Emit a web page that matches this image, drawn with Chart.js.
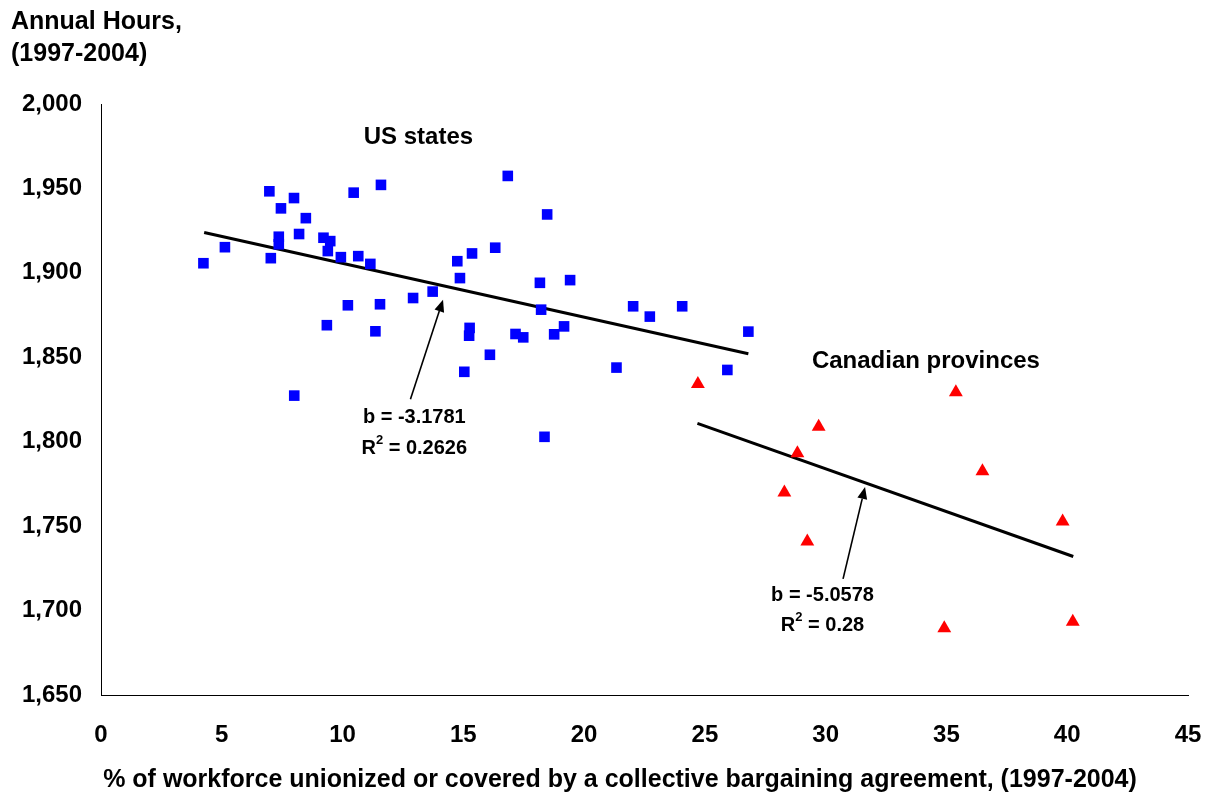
<!DOCTYPE html>
<html>
<head>
<meta charset="utf-8">
<script src="https://cdn.jsdelivr.net/npm/chart.js@4/dist/chart.umd.min.js"></script>
<style>
  html, body { margin: 0; padding: 0; background: #fff; }
  #wrap { width: 1212px; height: 796px; }
</style>
</head>
<body>
<div id="wrap"><canvas id="chart"></canvas></div>
<script>
// values
const usX = [4.24, 5.13, 6.97, 7.03, 7.36, 7.36, 7.45, 7.99, 8.0, 8.2, 8.48, 9.21, 9.35, 9.39, 9.49,
  9.93, 10.22, 10.46, 10.65, 11.15, 11.36, 11.55, 11.59, 12.92, 13.73, 14.75, 14.86, 15.04, 15.24,
  15.26, 15.36, 16.1, 16.32, 16.84, 17.16, 17.48, 18.17, 18.22, 18.36, 18.47, 18.76, 19.17, 19.42,
  21.34, 22.03, 22.72, 24.06, 25.93, 26.8];
const usY = [1905.7, 1915.2, 1948.3, 1908.7, 1921.4, 1916.9, 1938.2, 1944.3, 1827.3, 1923.0, 1932.4,
  1920.8, 1869.0, 1912.9, 1918.8, 1909.3, 1880.8, 1947.5, 1909.9, 1905.3, 1865.4, 1881.4, 1952.1,
  1885.1, 1888.9, 1906.9, 1896.9, 1841.4, 1862.8, 1867.4, 1911.5, 1851.5, 1914.9, 1957.4, 1863.8,
  1861.8, 1894.1, 1878.2, 1802.9, 1934.6, 1863.6, 1868.3, 1895.7, 1843.9, 1880.2, 1874.1, 1880.2,
  1842.5, 1865.2];

const caX = [24.71, 28.29, 28.83, 29.24, 29.71, 34.91, 35.39, 36.49, 39.81, 40.23];
const caY = [1834.2, 1769.9, 1793.1, 1740.9, 1808.9, 1689.5, 1829.3, 1782.5, 1752.8, 1693.4];

const usFitX = [4.27, 26.8];
const usFitY = [1923.9, 1852.1];
const caFitX = [24.69, 40.25];
const caFitY = [1810.9, 1732.0];

const xTicks = [0, 5, 10, 15, 20, 25, 30, 35, 40, 45];
const yTicks = [1650, 1700, 1750, 1800, 1850, 1900, 1950, 2000];

const groupNames = ['US states', 'Canadian provinces'];
const slopes = ['b = -3.1781', 'b = -5.0578'];
const rSquared = ['0.2626', '0.28'];

// where the notes sit, in axis units
const notes = {
  groups: [[13.14, 1980.4], [34.15, 1847.3]],
  slope: [[12.97, 1814.6], [29.87, 1708.9]],
  r2: [[12.97, 1796.2], [29.87, 1691.2]],
  arrows: [[12.81, 1825.1, 14.16, 1884.1], [30.72, 1718.8, 31.63, 1773.2]]
};

const FONT = '"Liberation Sans", Arial, sans-serif';

const toXY = (xs, ys) => xs.map((x, i) => ({ x: x, y: ys[i] }));

const notesPlugin = {
  id: 'notes',
  afterDraw(chart) {
    const ctx = chart.ctx;
    const sx = chart.scales.x, sy = chart.scales.y;
    ctx.save();
    ctx.fillStyle = '#000';
    ctx.textBaseline = 'middle';

    // axis titles
    ctx.textAlign = 'left';
    ctx.font = 'bold 25px ' + FONT;
    ctx.fillText('Annual Hours,', 11, 22);
    ctx.fillText('(1997-2004)', 11, 54);
    ctx.textAlign = 'center';
    ctx.fillText('% of workforce unionized or covered by a collective bargaining agreement, (1997-2004)', 620, 780);

    ctx.font = 'bold 24px ' + FONT;
    groupNames.forEach((t, i) => {
      ctx.fillText(t, sx.getPixelForValue(notes.groups[i][0]), sy.getPixelForValue(notes.groups[i][1]));
    });

    ctx.font = 'bold 20px ' + FONT;
    slopes.forEach((t, i) => {
      ctx.fillText(t, sx.getPixelForValue(notes.slope[i][0]), sy.getPixelForValue(notes.slope[i][1]));
    });

    // R² with a raised small 2
    rSquared.forEach((v, i) => {
      const cx = sx.getPixelForValue(notes.r2[i][0]);
      const cy = sy.getPixelForValue(notes.r2[i][1]);
      ctx.font = 'bold 20px ' + FONT;
      const wR = ctx.measureText('R').width;
      const wRest = ctx.measureText(' = ' + v).width;
      ctx.font = 'bold 13px ' + FONT;
      const w2 = ctx.measureText('2').width;
      let x = cx - (wR + w2 + wRest) / 2;
      ctx.textAlign = 'left';
      ctx.font = 'bold 20px ' + FONT;
      ctx.fillText('R', x, cy);
      ctx.font = 'bold 13px ' + FONT;
      ctx.fillText('2', x + wR, cy - 8);
      ctx.font = 'bold 20px ' + FONT;
      ctx.fillText(' = ' + v, x + wR + w2, cy);
      ctx.textAlign = 'center';
    });

    // arrows
    ctx.strokeStyle = '#000';
    ctx.lineWidth = 1.6;
    notes.arrows.forEach(a => {
      const x1 = sx.getPixelForValue(a[0]), y1 = sy.getPixelForValue(a[1]);
      const x2 = sx.getPixelForValue(a[2]), y2 = sy.getPixelForValue(a[3]);
      const ang = Math.atan2(y2 - y1, x2 - x1);
      const len = 12, half = 5;
      const bx = x2 - len * Math.cos(ang), by = y2 - len * Math.sin(ang);
      ctx.beginPath();
      ctx.moveTo(x1, y1);
      ctx.lineTo(bx, by);
      ctx.stroke();
      ctx.beginPath();
      ctx.moveTo(x2, y2);
      ctx.lineTo(bx + half * Math.sin(ang), by - half * Math.cos(ang));
      ctx.lineTo(bx - half * Math.sin(ang), by + half * Math.cos(ang));
      ctx.closePath();
      ctx.fill();
    });
    ctx.restore();
  }
};

new Chart(document.getElementById('chart'), {
  type: 'scatter',
  data: {
    datasets: [
      {
        label: 'US states',
        data: toXY(usX, usY),
        pointStyle: 'rect',
        pointRadius: 7.5,
        backgroundColor: '#0000ff',
        borderColor: '#0000ff',
        borderWidth: 0
      },
      {
        label: 'Canadian provinces',
        data: toXY(caX, caY),
        pointStyle: 'triangle',
        pointRadius: 8,
        backgroundColor: '#ff0000',
        borderColor: '#ff0000',
        borderWidth: 0
      },
      {
        label: 'US fit',
        type: 'line',
        data: toXY(usFitX, usFitY),
        borderColor: '#000',
        borderWidth: 3,
        pointRadius: 0,
        fill: false
      },
      {
        label: 'Canada fit',
        type: 'line',
        data: toXY(caFitX, caFitY),
        borderColor: '#000',
        borderWidth: 3,
        pointRadius: 0,
        fill: false
      }
    ]
  },
  options: {
    responsive: true,
    maintainAspectRatio: false,
    animation: false,
    events: [],
    layout: { padding: { left: 0, right: 24, top: 104, bottom: 0 } },
    plugins: {
      legend: { display: false },
      tooltip: { enabled: false }
    },
    scales: {
      x: {
        type: 'linear',
        min: 0,
        max: 45,
        afterBuildTicks: s => { s.ticks = xTicks.map(v => ({ value: v })); },
        afterFit: s => { s.height = 101; s.paddingRight = 0; s.paddingLeft = 0; },
        grid: { drawOnChartArea: false, drawTicks: false },
        border: { display: true, color: '#000', width: 1 },
        ticks: {
          color: '#000',
          padding: 26,
          maxRotation: 0,
          font: { family: FONT, size: 24, weight: 'bold' }
        }
      },
      y: {
        type: 'linear',
        min: 1650,
        max: 2000,
        afterBuildTicks: s => { s.ticks = yTicks.map(v => ({ value: v })); },
        afterFit: s => { s.width = 101; },
        grid: { drawOnChartArea: false, drawTicks: false },
        border: { display: true, color: '#000', width: 1 },
        ticks: {
          color: '#000',
          padding: 19,
          font: { family: FONT, size: 24, weight: 'bold' },
          callback: v => v.toLocaleString('en-US')
        }
      }
    }
  },
  plugins: [notesPlugin]
});
</script>
</body>
</html>
